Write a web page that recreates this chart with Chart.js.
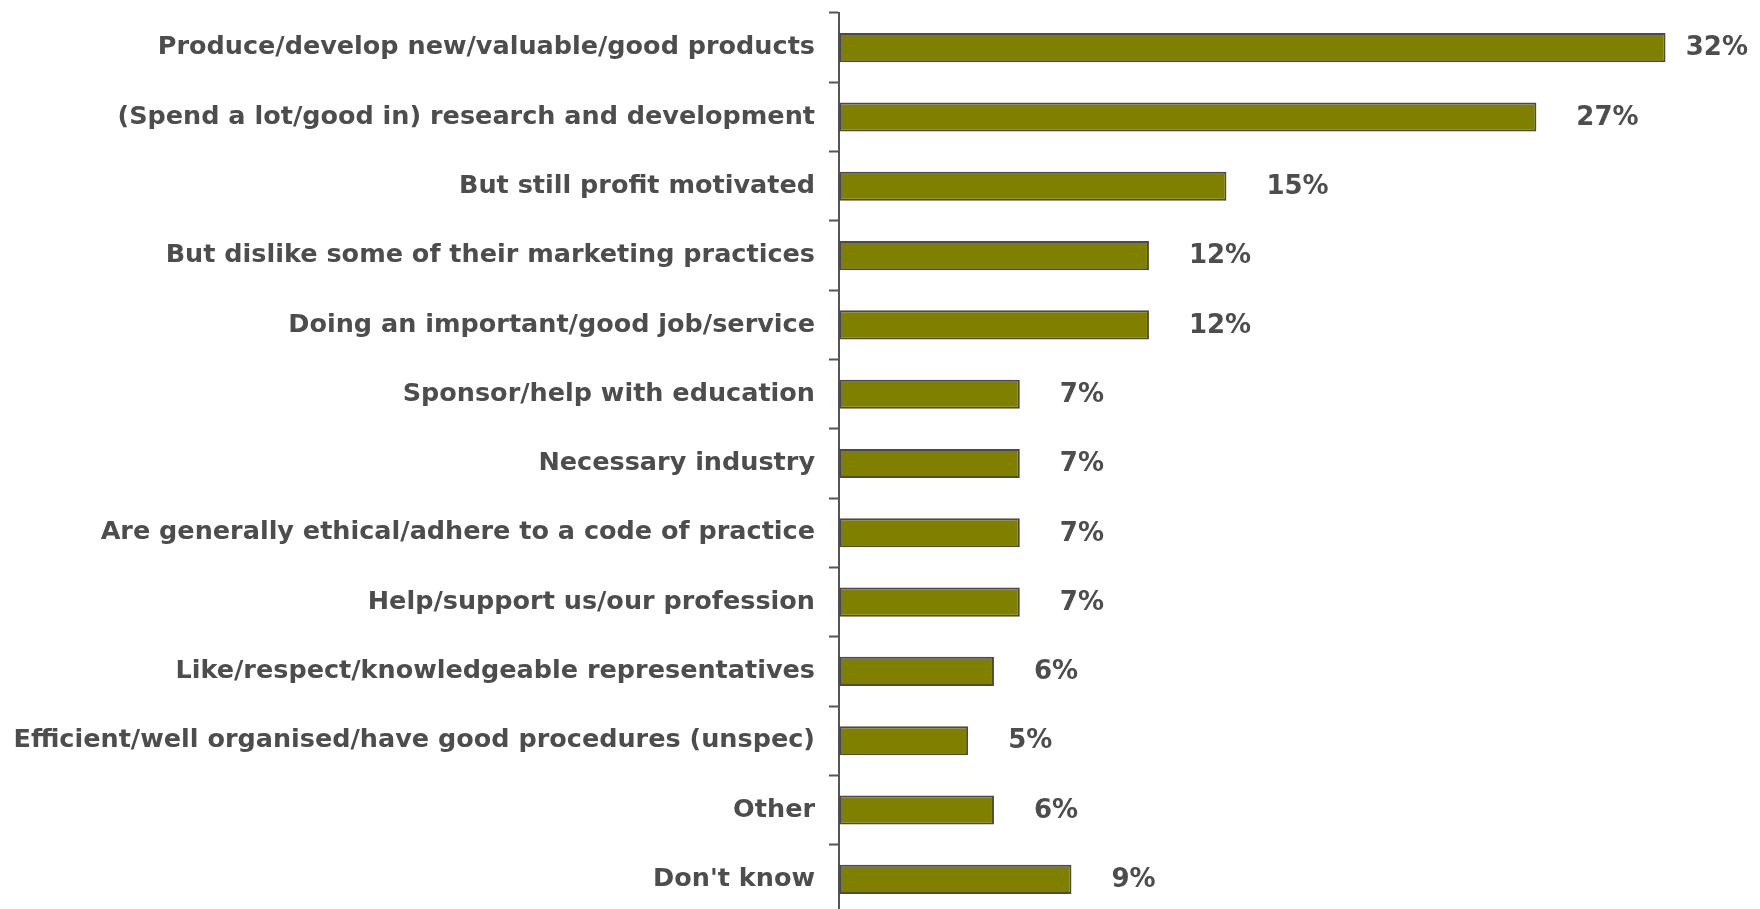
<!DOCTYPE html>
<html>
<head>
<meta charset="utf-8">
<script src="https://cdn.jsdelivr.net/npm/chart.js@4"></script>
<style>
    html, body { margin: 0; padding: 0; background: #ffffff; overflow: hidden; }
    .wrap { position: relative; width: 1760px; height: 916px; }
</style>
</head>
<body>
<div class="wrap"><canvas id="chart"></canvas></div>
<script>
const categories = [
    "Produce/develop new/valuable/good products",
    "(Spend a lot/good in) research and development",
    "But still profit motivated",
    "But dislike some of their marketing practices",
    "Doing an important/good job/service",
    "Sponsor/help with education",
    "Necessary industry",
    "Are generally ethical/adhere to a code of practice",
    "Help/support us/our profession",
    "Like/respect/knowledgeable representatives",
    "Efficient/well organised/have good procedures (unspec)",
    "Other",
    "Don't know"
];
const percents = [32, 27, 15, 12, 12, 7, 7, 7, 7, 6, 5, 6, 9];

const textColor = '#4d4d4d';
const fontFamily = '"DejaVu Sans", Verdana, sans-serif';
const labelFont = 'bold 26px ' + fontFamily;

// percent labels to the right of each bar
const valueLabels = {
    id: 'valueLabels',
    afterDatasetsDraw(chart) {
        const ctx = chart.ctx;
        const meta = chart.getDatasetMeta(0);
        ctx.save();
        ctx.font = labelFont;
        ctx.fillStyle = textColor;
        ctx.textAlign = 'left';
        ctx.textBaseline = 'middle';
        meta.data.forEach((bar, i) => {
            const txt = percents[i] + '%';
            const w = ctx.measureText(txt).width;
            let x = bar.x + 40;
            if (x + w > chart.width - 12) x = chart.width - 12 - w;
            ctx.fillText(txt, x, bar.y + 1);
        });
        ctx.restore();
    }
};

new Chart(document.getElementById('chart'), {
    type: 'bar',
    data: {
        labels: categories,
        datasets: [{
            data: percents,
            backgroundColor: '#808000',
            borderColor: '#4a4a4a',
            borderWidth: 2,
            borderSkipped: false,
            barPercentage: 0.42,
            categoryPercentage: 1.0
        }]
    },
    options: {
        indexAxis: 'y',
        responsive: true,
        maintainAspectRatio: false,
        animation: false,
        layout: { padding: { top: 13, bottom: 2, left: 0, right: 17 } },
        plugins: {
            legend: { display: false },
            tooltip: { enabled: false }
        },
        scales: {
            x: {
                display: false,
                min: 0,
                max: 35
            },
            y: {
                afterFit(scale) {
                    // fixed axis position, no extra room for half labels
                    scale.width = 839;
                    scale.paddingTop = 0;
                    scale.paddingBottom = 0;
                },
                border: { display: true, color: '#555555', width: 2 },
                grid: {
                    display: true,
                    drawOnChartArea: false,
                    drawTicks: true,
                    tickLength: 10,
                    tickColor: '#555555',
                    tickWidth: 2,
                    offset: true
                },
                ticks: {
                    color: textColor,
                    font: { family: fontFamily, size: 25.5, weight: 'bold' },
                    padding: 14,
                    autoSkip: false
                }
            }
        }
    },
    plugins: [valueLabels]
});
</script>
</body>
</html>
